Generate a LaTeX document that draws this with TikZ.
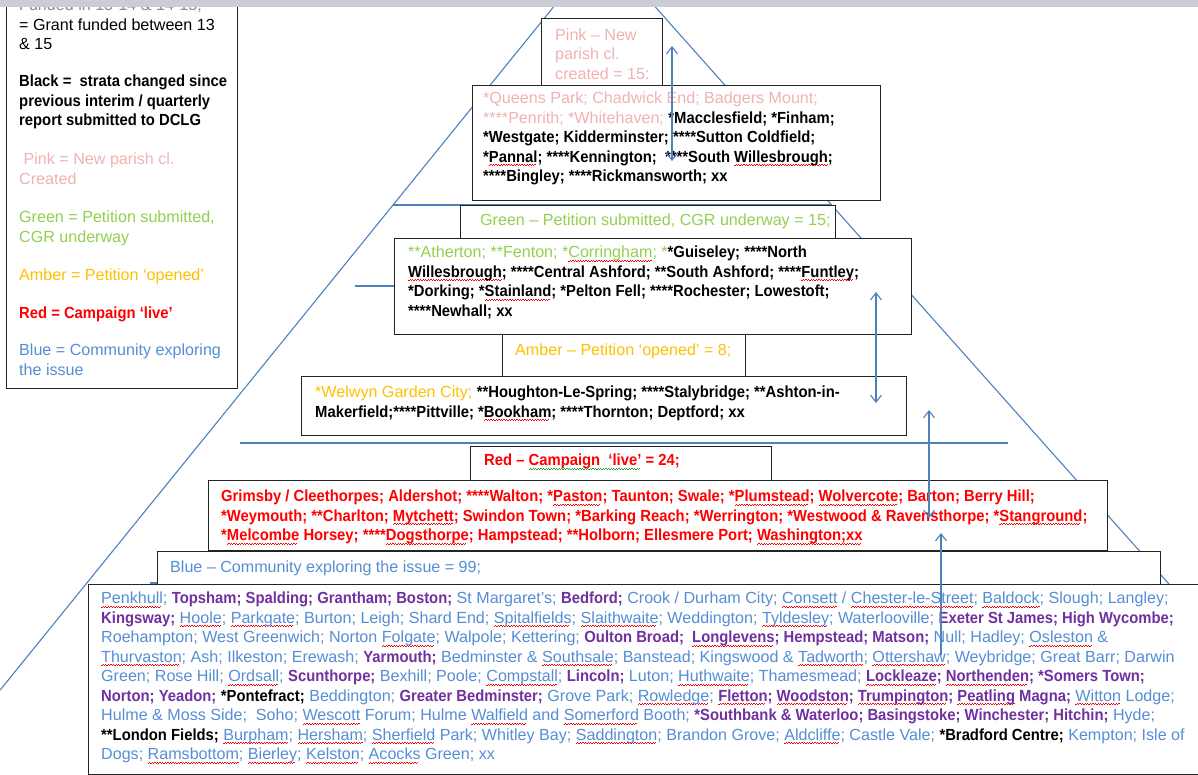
\documentclass[tikz,border=0pt]{standalone}
\usepackage{fontspec}
\setmainfont{Liberation Sans}[BoldFeatures={FakeStretch=0.92}]
\usetikzlibrary{arrows.meta}
\definecolor{lineblue}{RGB}{79,129,189}
\definecolor{boxc}{RGB}{35,35,35}
\definecolor{tblue}{RGB}{85,142,213}
\definecolor{tpurple}{RGB}{112,48,160}
\definecolor{tgreen}{RGB}{146,208,80}
\definecolor{tamber}{RGB}{255,192,0}
\definecolor{tred}{RGB}{255,0,0}
\definecolor{tpink}{RGB}{240,178,178}
\definecolor{tgray}{RGB}{140,140,140}
\definecolor{topbar}{RGB}{202,206,212}
\definecolor{sqgreen}{RGB}{40,160,40}
\newcommand\fsz{\fontsize{16.1}{19.5}\selectfont}
\newcommand\sqc[2]{\leavevmode\setbox0\hbox{#2}\rlap{\raisebox{-3.4pt}{\hbox to\wd0{\color{#1}\leaders\hbox{\rule{1.3pt}{0.6pt}\raisebox{1.1pt}{\rule{1.3pt}{0.6pt}}}\hfill}}}\box0\relax}
\newcommand\sq[1]{\sqc{red}{#1}}
\newcommand\gsq[1]{\sqc{sqgreen}{#1}}
\newcommand\tBl[1]{{\color{tblue}#1}}
\newcommand\tPu[1]{{\color{tpurple}\bfseries #1}}
\newcommand\tBk[1]{{\color{black}\bfseries #1}}
\begin{document}
\begin{tikzpicture}[x=1pt,y=-1pt,
  bx/.style={draw=boxc, line width=1.3pt, fill=white, inner sep=0pt, anchor=north west},
  txt/.style={anchor=north west, inner sep=0pt, align=left, font=\fsz},
  pyr/.style={draw=lineblue, line width=1.1pt},
  arr/.style={draw=lineblue, line width=1.1pt, >={Straight Barb[length=7pt,width=11pt]}}]
\clip (0,0) rectangle (1198,775);
\fill[white] (0,0) rectangle (1198,775);
% pyramid
\coordinate (lt) at (559.1,0);
\coordinate (lb) at (0,690.2);
\coordinate (rt) at (649.1,0);
\coordinate (rb) at (1198,616.7);
\draw[pyr] (lt) -- (lb);
\draw[pyr] (rt) -- (rb);
\coordinate (h1a) at (393,205); \coordinate (h1b) at (832,205);
\coordinate (h2a) at (355,286); \coordinate (h2b) at (904,286);
\coordinate (h3a) at (240,443); \coordinate (h3b) at (1008,443);
\coordinate (h4a) at (150,583); \coordinate (h4b) at (1100,583);
\draw[pyr] (h1a) -- (h1b);
\draw[pyr] (h2a) -- (h2b);
\draw[pyr] (h3a) -- (h3b);
\draw[pyr] (h4a) -- (h4b);
% legend
\node[bx, minimum width=231pt, minimum height=398pt] (legend) at (6,-10) {};
\node[txt] (lgray) at (19,-3) {\color{tgray}\strut Funded in 13-14 \& 14-15;\\= Grant funded between 13\\\& 15};
\node[txt] (lblack) at (19,73) {\bfseries\strut Black = \ strata changed since\\\bfseries previous interim / quarterly\\\bfseries report submitted to DCLG};
\node[txt] (lpink) at (19,151) {\color{tpink}\strut\ Pink = New parish cl.\\\color{tpink}Created};
\node[txt] (lgreen) at (19,209) {\color{tgreen}\strut Green = Petition submitted,\\\color{tgreen}CGR underway};
\node[txt] (lamber) at (19,266.5) {\color{tamber}\strut Amber = Petition `opened'};
\node[txt] (lred) at (19,305) {\color{tred}\bfseries\strut Red = Campaign `live'};
\node[txt] (lblue) at (19,342) {\color{tblue}\strut Blue = Community exploring\\\color{tblue}the issue};
% boxes
\node[bx, minimum width=121pt, minimum height=67pt] (pinkH) at (541,18) {};
\node[bx, minimum width=408pt, minimum height=115pt] (pinkC) at (472,85) {};
\node[bx, minimum width=375pt, minimum height=33pt] (greenH) at (460,205) {};
\node[bx, minimum width=517pt, minimum height=96pt] (greenC) at (394,238) {};
\node[bx, minimum width=243pt, minimum height=42pt] (amberH) at (502,334) {};
\node[bx, minimum width=605pt, minimum height=59pt] (amberC) at (301,376) {};
\node[bx, minimum width=301pt, minimum height=34pt] (redH) at (470,446) {};
\node[bx, minimum width=899pt, minimum height=70pt] (redC) at (208,480) {};
\node[bx, minimum width=1003pt, minimum height=33pt] (blueH) at (157,551) {};
\node[bx, minimum width=1130pt, minimum height=190pt] (blueC) at (88,584) {};
% texts
\node[txt] (tpinkH) at (555,26.5) {\color{tpink}\strut Pink – New\\\color{tpink}parish cl.\\\color{tpink}created = 15:};
\node[txt] (tpinkC) at (483,90) {\textcolor{tpink}{\strut *Queens Park; Chadwick End; Badgers Mount;}\\
\textcolor{tpink}{****Penrith; *Whitehaven;} \tBk{*Macclesfield; *Finham;}\\
\tBk{*Westgate; Kidderminster; ****Sutton Coldfield;}\\
\tBk{*\sq{Pannal}; ****Kennington; \ ****South \sq{Willesbrough};}\\
\tBk{****Bingley; ****Rickmansworth; xx}};
\node[txt] (tgreenH) at (480,212) {\color{tgreen}\strut Green – Petition submitted, CGR underway = 15;};
\node[txt] (tgreenC) at (408,244) {\textcolor{tgreen}{\strut **Atherton; **Fenton; *\sq{Corringham}; *}\tBk{*Guiseley; ****North}\\
\tBk{\sq{Willesbrough}; ****Central Ashford; **South Ashford; ****\sq{Funtley};}\\
\tBk{*Dorking; *\sq{Stainland}; *Pelton Fell; ****Rochester; Lowestoft;}\\
\tBk{****Newhall; xx}};
\node[txt] (tamberH) at (515,342) {\color{tamber}\strut Amber – Petition `opened' = 8;};
\node[txt] (tamberC) at (315,384) {\textcolor{tamber}{\strut *Welwyn Garden City;} \tBk{**Houghton-Le-Spring; ****Stalybridge; **Ashton-in-}\\
\tBk{Makerfield;****Pittville; *\sq{Bookham}; ****Thornton; Deptford; xx}};
\node[txt] (tredH) at (484,452) {\color{tred}\bfseries\strut Red – \gsq{Campaign \ `live'} = 24;};
\node[txt] (tredC) at (221,488) {\color{tred}\bfseries\strut Grimsby / Cleethorpes; Aldershot; ****Walton; *\sq{Paston}; Taunton; Swale; *\sq{Plumstead}; \sq{Wolvercote}; Barton; Berry Hill;\\
\color{tred}\bfseries *Weymouth; **Charlton; \sq{Mytchett}; Swindon Town; *Barking Reach; *Werrington; *Westwood \& Ravensthorpe; *\sq{Stanground};\\
\color{tred}\bfseries *\sq{Melcombe} Horsey; ****\sq{Dogsthorpe}; Hampstead; **Holborn; Ellesmere Port; \sq{Washington;xx}};
\node[txt] (tblueH) at (170,559) {\color{tblue}\strut Blue – Community exploring the issue = 99;};
\node[txt] (tblueC) at (101,590) {\tBl{\strut\sq{Penkhull};} \tPu{Topsham; Spalding; Grantham; Boston;} \tBl{St Margaret's;} \tPu{Bedford;} \tBl{Crook / Durham City; \sq{Consett} / \sq{Chester-le-Street}; \sq{Baldock}; Slough; Langley;}\\
\tPu{Kingsway;} \tBl{\sq{Hoole}; \sq{Parkgate}; Burton; Leigh; Shard End; \sq{Spitalfields}; \sq{Slaithwaite}; Weddington; \sq{Tyldesley}; Waterlooville;} \tPu{Exeter St James; High Wycombe;}\\
\tBl{Roehampton; West Greenwich; Norton \sq{Folgate}; Walpole; Kettering;} \tPu{Oulton Broad; \ \sq{Longlevens}; Hempstead; Matson;} \tBl{Null; Hadley; \sq{Osleston} \&}\\
\tBl{\sq{Thurvaston}; Ash; Ilkeston; Erewash;} \tPu{Yarmouth;} \tBl{Bedminster \& \sq{Southsale}; Banstead; Kingswood \& \sq{Tadworth}; \sq{Ottershaw}; Weybridge; Great Barr; Darwin}\\
\tBl{Green; Rose Hill; \sq{Ordsall};} \tPu{Scunthorpe;} \tBl{Bexhill; Poole; \sq{Compstall};} \tPu{Lincoln;} \tBl{Luton; \sq{Huthwaite}; Thamesmead;} \tPu{\sq{Lockleaze}; \sq{Northenden}; *Somers Town;}\\
\tPu{Norton; Yeadon;} \tBk{*Pontefract;} \tBl{Beddington;} \tPu{Greater Bedminster;} \tBl{Grove Park; \sq{Rowledge};} \tPu{\sq{Fletton}; \sq{Woodston}; \sq{Trumpington}; \sq{Peatling} Magna;} \tBl{\sq{Witton} Lodge;}\\
\tBl{Hulme \& Moss Side; \ Soho; \sq{Wescott} Forum; Hulme \sq{Walfield} and \sq{Somerford} Booth;} \tPu{*Southbank \& Waterloo; Basingstoke; Winchester; Hitchin;} \tBl{Hyde;}\\
\tBk{**London Fields;} \tBl{\sq{Burpham}; \sq{Hersham}; \sq{Sherfield} Park; Whitley Bay; \sq{Saddington}; Brandon Grove; \sq{Aldcliffe}; Castle Vale;} \tBk{*Bradford Centre;} \tBl{Kempton; Isle of}\\
\tBl{Dogs; \sq{Ramsbottom}; \sq{Bierley}; \sq{Kelston}; \sq{Acocks} Green; xx}};
% arrows
\coordinate (a1t) at (672,46); \coordinate (a1b) at (672,161);
\coordinate (a2t) at (876,292); \coordinate (a2b) at (876,403);
\coordinate (a3t) at (929,410); \coordinate (a3b) at (929,518);
\coordinate (a4t) at (941,533); \coordinate (a4b) at (941,655);
\draw[arr,<->] (a1t) -- (a1b);
\draw[arr,<->] (a2t) -- (a2b);
\draw[arr,<->] (a3t) -- (a3b);
\draw[arr,<-] (a4t) -- (a4b);
% top bar
\fill[topbar] (0,0) rectangle (1198,7.5);
\end{tikzpicture}
\end{document}
